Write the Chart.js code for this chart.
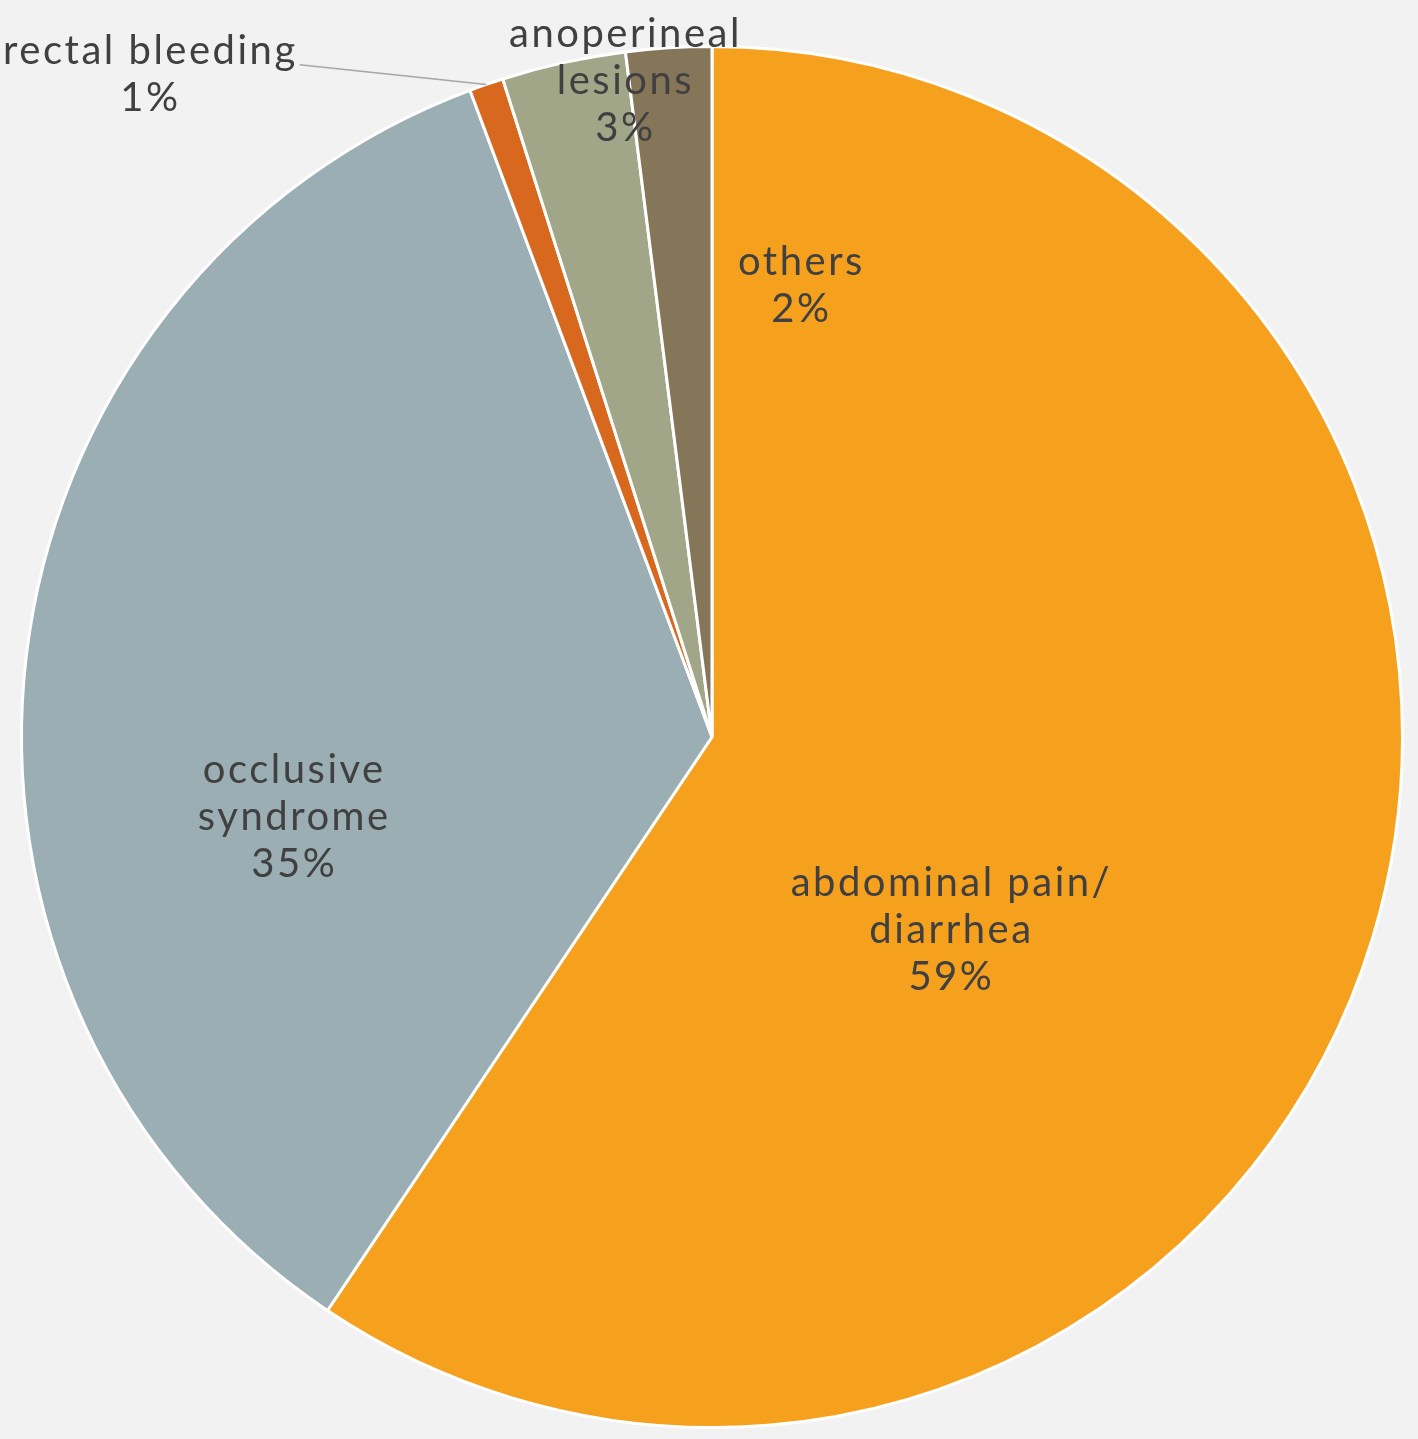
<!DOCTYPE html>
<html lang="en">
<head>
<meta charset="utf-8"/>
<title>Presenting symptoms</title>
<script src="https://cdn.jsdelivr.net/npm/chart.js@4.4.1/dist/chart.umd.min.js"></script>
<style>
  html, body { margin: 0; padding: 0; background: #f2f2f2; }
  #wrap { position: relative; width: 1418px; height: 1439px; }
</style>
</head>
<body>
<div id="wrap"><canvas id="myChart"></canvas></div>
<script>
  // slices, clockwise from 12 o'clock
  var categories = [
    ["abdominal pain/", "diarrhea"],
    ["occlusive", "syndrome"],
    ["rectal bleeding"],
    ["anoperineal", "lesions"],
    ["others"]
  ];
  var shares = [59.4, 34.9, 0.8, 2.9, 2.0];
  var colors = ["#f5a11e", "#9baeb4", "#d9681f", "#a0a687", "#857559"];

  // where each label sits: angle offset from slice middle (deg), distance as fraction of radius
  var labelLayout = [
    { dAngle: 21.9, frac: 0.445 },
    { dAngle: -17.5, frac: 0.616 },
    { dAngle: -21.2, frac: 1.258, leader: true },
    { dAngle: 4.9, frac: 0.958 },
    { dAngle: 14.8, frac: 0.667 }
  ];

  // draws the Excel-style "name / percent" labels
  var sliceLabels = {
    id: "sliceLabels",
    afterDatasetsDraw: function (chart) {
      var ctx = chart.ctx;
      var meta = chart.getDatasetMeta(0);
      var data = chart.data.datasets[0].data;
      var total = data.reduce(function (a, b) { return a + b; }, 0);
      var lineH = 47;
      ctx.save();
      ctx.font = "40px Lato, 'DejaVu Sans', sans-serif";
      ctx.letterSpacing = "2.5px";
      ctx.fillStyle = "#404040";
      ctx.textAlign = "center";
      ctx.textBaseline = "middle";
      meta.data.forEach(function (arc, i) {
        var lay = labelLayout[i];
        var mid = (arc.startAngle + arc.endAngle) / 2;
        var a = mid + lay.dAngle * Math.PI / 180;
        var r = arc.outerRadius * lay.frac;
        var cx = arc.x + r * Math.cos(a);
        var cy = arc.y + r * Math.sin(a);
        var lines = chart.data.labels[i].concat([Math.round(data[i] / total * 100) + "%"]);
        var top = cy - (lines.length - 1) * lineH / 2;
        lines.forEach(function (t, k) {
          ctx.fillText(t, cx, top + k * lineH);
        });
        if (lay.leader) {
          var w = ctx.measureText(lines[0]).width;
          var ex = arc.x + arc.outerRadius * Math.cos(mid);
          var ey = arc.y + arc.outerRadius * Math.sin(mid);
          ctx.beginPath();
          ctx.strokeStyle = "#a6a6a6";
          ctx.lineWidth = 1.5;
          ctx.moveTo(cx + w / 2 + 2, top + 14);
          ctx.lineTo(ex, ey);
          ctx.stroke();
        }
      });
      ctx.restore();
    }
  };

  new Chart(document.getElementById("myChart"), {
    type: "pie",
    data: {
      labels: categories,
      datasets: [{
        data: shares,
        backgroundColor: colors,
        borderColor: "#ffffff",
        borderWidth: 3
      }]
    },
    options: {
      responsive: true,
      maintainAspectRatio: false,
      animation: false,
      layout: { padding: { left: 20, right: 14, top: 45, bottom: 10 } },
      plugins: {
        legend: { display: false },
        tooltip: { enabled: false }
      }
    },
    plugins: [sliceLabels]
  });
</script>
</body>
</html>
